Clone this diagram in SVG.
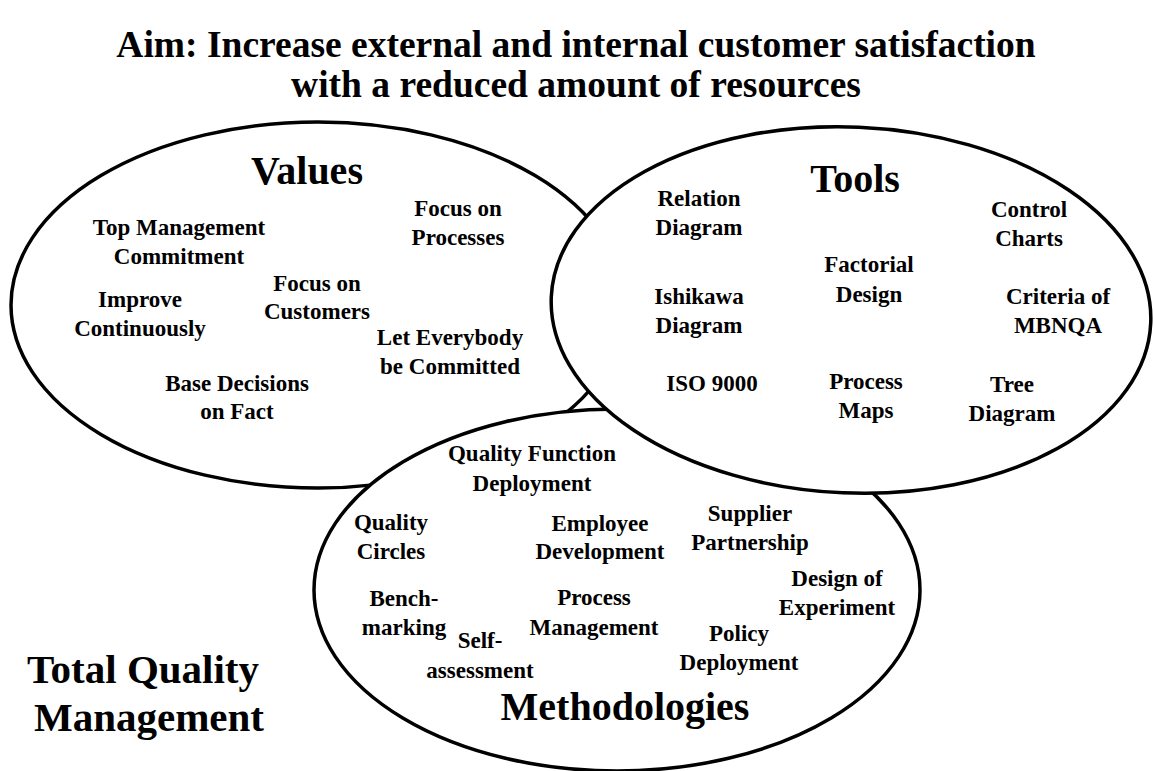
<svg xmlns="http://www.w3.org/2000/svg" width="1153" height="771" viewBox="0 0 1153 771">
<style>
.bg{fill:#ffffff}
.ell{fill:#ffffff;stroke:#000000;stroke-width:3.5}
text{font-family:"Liberation Serif","Times New Roman",serif;font-weight:bold;fill:#000000;text-anchor:middle}
.title{font-size:37.5px}
.head{font-size:40px}
.item{font-size:23px}
.tqm{font-size:41px;text-anchor:start}
</style>
<rect class="bg" x="0" y="0" width="1153" height="771"/>
<g id="aim">
<text class="title" x="576" y="57">Aim: Increase external and internal customer satisfaction</text>
<text class="title" x="576" y="97">with a reduced amount of resources</text>
</g>
<g id="values">
<ellipse class="ell" cx="318" cy="305" rx="307" ry="183"/>
<text class="head" x="307" y="184">Values</text>
<text class="item" x="458" y="216">Focus on</text>
<text class="item" x="458" y="245">Processes</text>
<text class="item" x="179" y="235">Top Management</text>
<text class="item" x="179" y="264">Commitment</text>
<text class="item" x="317" y="291">Focus on</text>
<text class="item" x="317" y="319">Customers</text>
<text class="item" x="140" y="307">Improve</text>
<text class="item" x="140" y="336">Continuously</text>
<text class="item" x="450" y="345">Let Everybody</text>
<text class="item" x="450" y="374">be Committed</text>
<text class="item" x="237" y="391">Base Decisions</text>
<text class="item" x="237" y="419">on Fact</text>
</g>
<g id="methodologies">
<ellipse class="ell" cx="617" cy="590" rx="303" ry="181"/>
<text class="item" x="532" y="461">Quality Function</text>
<text class="item" x="532" y="491">Deployment</text>
<text class="item" x="391" y="530">Quality</text>
<text class="item" x="391" y="559">Circles</text>
<text class="item" x="600" y="531">Employee</text>
<text class="item" x="600" y="559">Development</text>
<text class="item" x="750" y="521">Supplier</text>
<text class="item" x="750" y="550">Partnership</text>
<text class="item" x="837" y="586">Design of</text>
<text class="item" x="837" y="615">Experiment</text>
<text class="item" x="404" y="606">Bench-</text>
<text class="item" x="404" y="635">marking</text>
<text class="item" x="594" y="605">Process</text>
<text class="item" x="594" y="635">Management</text>
<text class="item" x="480" y="648">Self-</text>
<text class="item" x="480" y="678">assessment</text>
<text class="item" x="739" y="641">Policy</text>
<text class="item" x="739" y="670">Deployment</text>
<text class="head" x="625" y="720">Methodologies</text>
</g>
<g id="tools">
<ellipse class="ell" cx="851" cy="310" rx="300" ry="183" transform="rotate(2.5 851 310)"/>
<text class="head" x="855" y="192">Tools</text>
<text class="item" x="699" y="206">Relation</text>
<text class="item" x="699" y="235">Diagram</text>
<text class="item" x="1029" y="217">Control</text>
<text class="item" x="1029" y="246">Charts</text>
<text class="item" x="869" y="272">Factorial</text>
<text class="item" x="869" y="302">Design</text>
<text class="item" x="699" y="304">Ishikawa</text>
<text class="item" x="699" y="333">Diagram</text>
<text class="item" x="1058" y="304">Criteria of</text>
<text class="item" x="1058" y="333">MBNQA</text>
<text class="item" x="712" y="391">ISO 9000</text>
<text class="item" x="866" y="389">Process</text>
<text class="item" x="866" y="418">Maps</text>
<text class="item" x="1012" y="392">Tree</text>
<text class="item" x="1012" y="421">Diagram</text>
</g>
<g id="tqm">
<text class="tqm" x="27" y="683">Total Quality</text>
<text class="tqm" x="34" y="731">Management</text>
</g>
<g id="connectors"/>
</svg>
